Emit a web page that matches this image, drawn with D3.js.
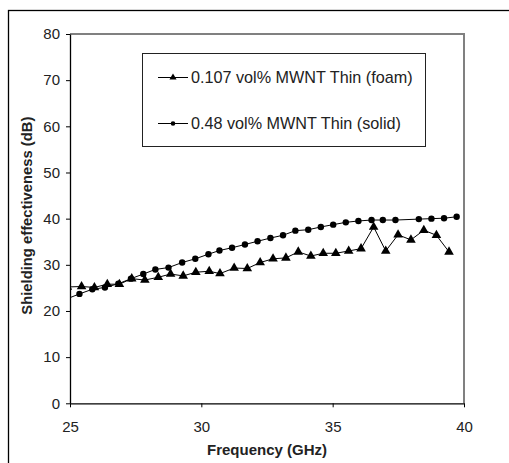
<!DOCTYPE html>
<html>
<head>
<meta charset="utf-8">
<script src="https://cdn.jsdelivr.net/npm/d3@7"></script>
<style>
  body { margin: 0; background: #fff; }
  svg { display: block; font-family: "Liberation Sans", Arial, sans-serif; }
</style>
</head>
<body>
<script>
// foam sample, triangles (GHz, dB) -- first point sits left of the axis and is clipped
var foamFreq = [24.9, 25.44, 25.93, 26.42, 26.88, 27.35, 27.85, 28.36, 28.83, 29.31, 29.79,
  30.30, 30.71, 31.25, 31.75, 32.24, 32.73, 33.22, 33.69, 34.17, 34.64, 35.12, 35.61,
  36.08, 36.56, 37.02, 37.49, 37.98, 38.47, 38.95, 39.43];
var foamSE = [25.2, 25.3, 25.1, 25.8, 25.8, 27.0, 26.7, 27.3, 28.0, 27.6, 28.4,
  28.6, 28.1, 29.3, 29.2, 30.5, 31.3, 31.5, 32.8, 31.9, 32.5, 32.5, 33.0,
  33.5, 38.2, 33.0, 36.5, 35.4, 37.5, 36.4, 32.8];

// solid sample, circles
var solidFreq = [24.87, 25.36, 25.85, 26.33, 26.84, 27.32, 27.79, 28.25, 28.75, 29.27, 29.77,
  30.27, 30.69, 31.17, 31.66, 32.14, 32.63, 33.11, 33.58, 34.07, 34.55, 35.02, 35.50,
  35.98, 36.48, 36.91, 37.39, 38.28, 38.76, 39.24, 39.72];
var solidSE = [22.6, 23.7, 24.7, 25.1, 25.9, 27.0, 28.0, 29.0, 29.4, 30.5, 31.3,
  32.3, 33.1, 33.7, 34.4, 35.1, 35.8, 36.4, 37.4, 37.6, 38.2, 38.7, 39.2,
  39.5, 39.7, 39.7, 39.7, 39.9, 40.0, 40.1, 40.4];

var xTicks = [25, 30, 35, 40];
var yTicks = [0, 10, 20, 30, 40, 50, 60, 70, 80];
var legendLabels = ["0.107 vol% MWNT Thin (foam)", "0.48 vol% MWNT Thin (solid)"];

var W = 509, H = 463;
var m = {left: 70, top: 34, right: 464, bottom: 403.3};

var svg = d3.select("body").append("svg").attr("width", W).attr("height", H);

// outer frame (only left and top edges fall inside the picture)
svg.append("rect").attr("x", 8.5).attr("y", 10.5).attr("width", 520).attr("height", 500)
  .attr("fill", "none").attr("stroke", "#000").attr("stroke-width", 1.3);

var x = d3.scaleLinear().domain([25, 40]).range([m.left, m.right]);
var y = d3.scaleLinear().domain([0, 80]).range([m.bottom, m.top]);

// plot area top/right in grey
svg.append("path")
  .attr("d", "M" + m.left + "," + m.top + "H" + m.right + "V" + m.bottom)
  .attr("fill", "none").attr("stroke", "#808080").attr("stroke-width", 2);

svg.append("clipPath").attr("id", "plot")
  .append("rect").attr("x", m.left).attr("y", m.top)
  .attr("width", m.right - m.left).attr("height", m.bottom - m.top);

var xAxis = svg.append("g").attr("transform", "translate(0," + m.bottom + ")")
  .call(d3.axisBottom(x).tickValues(xTicks).tickSize(4).tickSizeOuter(0));
var yAxis = svg.append("g").attr("transform", "translate(" + m.left + ",0)")
  .call(d3.axisLeft(y).tickValues(yTicks).tickSize(4).tickSizeOuter(0));

[xAxis, yAxis].forEach(function(a) {
  a.select(".domain").attr("stroke", "#000").attr("stroke-width", 1.3);
  a.selectAll(".tick line").attr("stroke", "#000");
  a.selectAll(".tick text").attr("fill", "#222").style("font-size", "15px")
    .style("font-family", "'Liberation Sans', Arial, sans-serif");
});
xAxis.selectAll(".tick text").attr("y", 18).attr("dy", "0.71em");
yAxis.selectAll(".tick text").attr("x", -10);

svg.append("text").attr("x", (m.left + m.right) / 2).attr("y", 455)
  .attr("text-anchor", "middle").style("font-size", "15px").style("font-weight", "bold")
  .attr("fill", "#222").text("Frequency (GHz)");
svg.append("text")
  .attr("transform", "translate(27," + ((m.top + m.bottom) / 2 - 3) + ") rotate(-90)")
  .attr("text-anchor", "middle").attr("dy", "0.35em")
  .style("font-size", "14.8px").style("font-weight", "bold")
  .attr("fill", "#222").text("Shielding effectiveness (dB)");

var line = d3.line().x(function(d) { return x(d[0]); }).y(function(d) { return y(d[1]); });
var foam = d3.zip(foamFreq, foamSE);
var solid = d3.zip(solidFreq, solidSE);

var plot = svg.append("g").attr("clip-path", "url(#plot)");
plot.append("path").datum(solid).attr("d", line)
  .attr("fill", "none").attr("stroke", "#000").attr("stroke-width", 1);
plot.append("path").datum(foam).attr("d", line)
  .attr("fill", "none").attr("stroke", "#000").attr("stroke-width", 1);

var tri = d3.symbol().type(d3.symbolTriangle).size(40);
plot.selectAll(".tri").data(foam).enter().append("path")
  .attr("d", tri)
  .attr("transform", function(d) { return "translate(" + x(d[0]) + "," + y(d[1]) + ")"; })
  .attr("fill", "#000");
plot.selectAll(".dot").data(solid).enter().append("circle")
  .attr("cx", function(d) { return x(d[0]); })
  .attr("cy", function(d) { return y(d[1]); })
  .attr("r", 3.2).attr("fill", "#000");

// legend
var lg = svg.append("g");
lg.append("rect").attr("x", 142.5).attr("y", 53.5).attr("width", 283).attr("height", 93)
  .attr("fill", "#fff").attr("stroke", "#222").attr("stroke-width", 1);
var rows = [77.5, 123.5];
legendLabels.forEach(function(t, i) {
  var gy = rows[i];
  lg.append("line").attr("x1", 158).attr("x2", 188).attr("y1", gy).attr("y2", gy)
    .attr("stroke", "#000");
  if (i === 0) {
    lg.append("path").attr("d", d3.symbol().type(d3.symbolTriangle).size(22))
      .attr("transform", "translate(173," + gy + ")").attr("fill", "#000");
  } else {
    lg.append("circle").attr("cx", 173).attr("cy", gy).attr("r", 2.3).attr("fill", "#000");
  }
  lg.append("text").attr("x", 191).attr("y", gy).attr("dy", "0.36em")
    .style("font-size", "16.2px").attr("fill", "#222").text(t);
});
</script>
</body>
</html>
